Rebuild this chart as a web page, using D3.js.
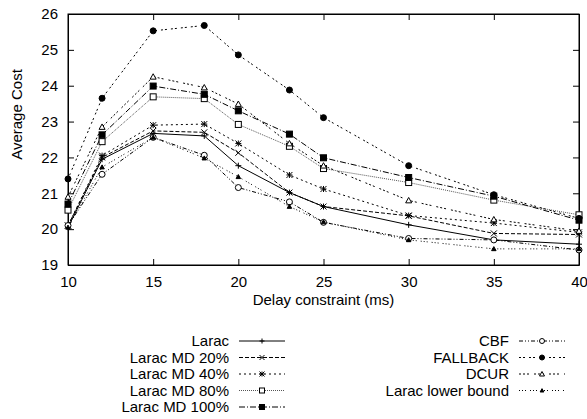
<!DOCTYPE html>
<html>
<head>
<meta charset="utf-8">
<script src="https://cdn.jsdelivr.net/npm/d3@7"></script>
<style>
  body { margin: 0; background: #fff; }
  text { font-family: "Liberation Sans", Arial, sans-serif; fill: #000; }
</style>
</head>
<body>
<div id="chart"></div>
<script>
var delays = [10, 12, 15, 18, 20, 23, 25, 30, 35, 40];
var xTicks = [10, 15, 20, 25, 30, 35, 40];
var yTicks = [19, 20, 21, 22, 23, 24, 25, 26];

var larac    = [20.05, 21.95, 22.67, 22.60, 21.77, 21.02, 20.63, 20.12, 19.70, 19.58];
var larac20  = [20.10, 22.00, 22.74, 22.70, 22.13, 21.02, 20.63, 20.37, 19.88, 19.85];
var larac40  = [20.10, 22.05, 22.90, 22.93, 22.39, 21.51, 21.12, 20.38, 20.17, 19.91];
var larac80  = [20.53, 22.44, 23.69, 23.64, 22.92, 22.31, 21.69, 21.30, 20.81, 20.40];
var larac100 = [20.70, 22.63, 23.99, 23.76, 23.30, 22.65, 21.99, 21.44, 20.92, 20.25];
var cbf      = [20.10, 21.53, 22.56, 22.06, 21.16, 20.76, 20.19, 19.74, 19.70, 19.42];
var fallback = [21.40, 23.65, 25.53, 25.68, 24.86, 23.88, 23.11, 21.77, 20.96, 20.30];
var dcur     = [20.90, 22.85, 24.25, 23.95, 23.49, 22.39, 21.77, 20.80, 20.27, 19.95];
var lowerBnd = [20.05, 21.73, 22.56, 21.98, 21.46, 20.63, 20.20, 19.70, 19.45, 19.45];

var series = [
    {name: "Larac", values: larac, dash: null, marker: "plus", col: 0, row: 0},
    {name: "Larac MD 20%", values: larac20, dash: "4,2", marker: "cross", col: 0, row: 1},
    {name: "Larac MD 40%", values: larac40, dash: "2,3", marker: "star", col: 0, row: 2},
    {name: "Larac MD 80%", values: larac80, dash: "1,1", marker: "square", col: 0, row: 3},
    {name: "Larac MD 100%", values: larac100, dash: "6,2,1,2", marker: "squareFilled", col: 0, row: 4},
    {name: "CBF", values: cbf, dash: "4,2,1,2,1,2", marker: "circle", col: 1, row: 0},
    {name: "FALLBACK", values: fallback, dash: "2,2,2,4", marker: "circleFilled", col: 1, row: 1},
    {name: "DCUR", values: dcur, dash: "2,2,2,2,2,5", marker: "triangle", col: 1, row: 2},
    {name: "Larac lower bound", values: lowerBnd, dash: "1,2,1,2,1,4", marker: "triangleFilled", col: 1, row: 3}
];

var margin = {top: 14, right: 8, bottom: 154, left: 68};
var W = 587, H = 419;
var width = W - margin.left - margin.right;
var height = H - margin.top - margin.bottom;
var fs = "15px";

var svg = d3.select("#chart").append("svg")
    .attr("width", W)
    .attr("height", H);

var g = svg.append("g")
    .attr("transform", "translate(" + margin.left + "," + margin.top + ")");

var x = d3.scaleLinear().domain([10, 40]).range([0, width]);
var y = d3.scaleLinear().domain([19, 26]).range([height, 0]);

// gnuplot style axes: ticks inward, mirrored
g.append("g")
    .attr("transform", "translate(0," + height + ")")
    .call(d3.axisBottom(x).tickValues(xTicks).tickSizeInner(-6).tickSizeOuter(0).tickPadding(11).tickFormat(d3.format("d")));
g.append("g")
    .call(d3.axisTop(x).tickValues(xTicks).tickSizeInner(-6).tickSizeOuter(0).tickFormat(""));
g.append("g")
    .call(d3.axisLeft(y).tickValues(yTicks).tickSizeInner(-6).tickSizeOuter(0).tickPadding(10).tickFormat(d3.format("d")));
g.append("g")
    .attr("transform", "translate(" + width + ",0)")
    .call(d3.axisRight(y).tickValues(yTicks).tickSizeInner(-6).tickSizeOuter(0).tickFormat(""));
g.selectAll(".domain").attr("stroke", "#000").attr("stroke-width", 1);
g.selectAll(".tick line").attr("stroke", "#000");
g.selectAll(".tick text")
    .attr("font-family", "Liberation Sans, Arial, sans-serif")
    .style("font-size", fs);

g.append("rect")
    .attr("width", width).attr("height", height)
    .attr("fill", "none").attr("stroke", "#000");

g.append("text")
    .text("Delay constraint (ms)")
    .attr("x", width / 2).attr("y", height + 40)
    .attr("text-anchor", "middle")
    .style("font-size", fs);

g.append("text")
    .text("Average Cost")
    .attr("transform", "translate(-46," + (height / 2 - 25) + ") rotate(-90)")
    .attr("text-anchor", "middle")
    .style("font-size", fs);

function drawMarker(sel, type, cx, cy, s) {
    var h = s / 2;
    var m = sel.append("g").attr("transform", "translate(" + cx + "," + cy + ")");
    if (type === "plus") {
        m.append("path").attr("d", "M" + (-h) + ",0H" + h + "M0," + (-h) + "V" + h).attr("stroke", "#000");
    } else if (type === "cross") {
        m.append("path").attr("d", "M" + (-h) + "," + (-h) + "L" + h + "," + h + "M" + (-h) + "," + h + "L" + h + "," + (-h)).attr("stroke", "#000");
    } else if (type === "star") {
        m.append("path").attr("d", "M" + (-h) + ",0H" + h + "M0," + (-h) + "V" + h +
            "M" + (-h) + "," + (-h) + "L" + h + "," + h + "M" + (-h) + "," + h + "L" + h + "," + (-h)).attr("stroke", "#000");
    } else if (type === "square" || type === "squareFilled") {
        m.append("rect").attr("x", -h).attr("y", -h).attr("width", s).attr("height", s)
            .attr("fill", type === "square" ? "#fff" : "#000").attr("stroke", "#000");
    } else if (type === "circle" || type === "circleFilled") {
        m.append("circle").attr("r", h)
            .attr("fill", type === "circle" ? "#fff" : "#000").attr("stroke", "#000");
    } else if (type === "triangle" || type === "triangleFilled") {
        var t = type === "triangle" ? h : h * 0.75;
        m.append("path").attr("d", "M0," + (-t) + "L" + t + "," + (t * 0.8) + "L" + (-t) + "," + (t * 0.8) + "Z")
            .attr("fill", type === "triangle" ? "#fff" : "#000").attr("stroke", "#000");
    }
}

var line = d3.line()
    .x(function(d, i){ return x(delays[i]); })
    .y(function(d){ return y(d); });

series.forEach(function(s){
    g.append("path")
        .datum(s.values)
        .attr("d", line)
        .attr("fill", "none")
        .attr("stroke", s.marker === "square" ? "#555" : "#000")
        .attr("stroke-width", 1)
        .attr("stroke-dasharray", s.dash);
});
series.forEach(function(s){
    s.values.forEach(function(v, i){
        drawMarker(g, s.marker, x(delays[i]), y(v), 6);
    });
});

// legend, two columns below the plot
var legend = svg.append("g");
var colText = [229, 509];
var rowY = [341, 357.5, 374, 390.5, 407];
series.forEach(function(s){
    var tx = colText[s.col], ty = rowY[s.row];
    legend.append("text")
        .text(s.name)
        .attr("x", tx).attr("y", ty + 5)
        .attr("text-anchor", "end")
        .style("font-size", fs);
    legend.append("line")
        .attr("x1", tx + 10).attr("x2", tx + 56)
        .attr("y1", ty).attr("y2", ty)
        .attr("stroke", s.marker === "square" ? "#555" : "#000")
        .attr("stroke-dasharray", s.dash);
    drawMarker(legend, s.marker, tx + 33, ty, 5);
});
</script>
</body>
</html>
